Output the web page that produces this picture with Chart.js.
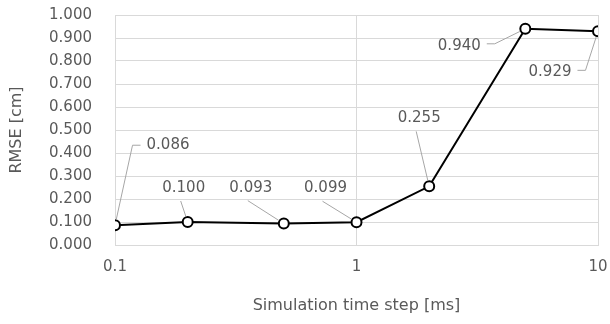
<!DOCTYPE html>
<html>
<head>
<meta charset="utf-8">
<script src="https://cdn.jsdelivr.net/npm/chart.js@4/dist/chart.umd.min.js"></script>
<style>
    body { margin: 0; background: #fff; }
</style>
</head>
<body>
<canvas id="rmseChart" width="610" height="324"></canvas>
<script>
// Chart data
const timeSteps = [0.1, 0.2, 0.5, 1, 2, 5, 10];
const rmseValues = [0.086, 0.100, 0.093, 0.099, 0.255, 0.940, 0.929];
const xTickValues = [0.1, 1, 10];
const yMin = 0, yMax = 1, yStep = 0.1;

// Label placement relative to each point (dx, dy of label centre, leader side)
const labelPlacement = [
    { dx: 53, dy: -80, side: 'left' },
    { dx: -4, dy: -34, side: 'bottom' },
    { dx: -33, dy: -36, side: 'bottom' },
    { dx: -31, dy: -34, side: 'bottom' },
    { dx: -10, dy: -68, side: 'bottom' },
    { dx: -66, dy: 17, side: 'right' },
    { dx: -48, dy: 41, side: 'right' }
];

const textColor = '#595959';
const gridColor = '#d9d9d9';
const fontFamily = '"DejaVu Sans", Verdana, sans-serif';

// Draws value labels with thin leader lines, Excel style
const leaderLabels = {
    id: 'leaderLabels',
    afterDatasetsDraw(chart) {
        const ctx = chart.ctx;
        const meta = chart.getDatasetMeta(0);
        ctx.save();
        ctx.font = '15px ' + fontFamily;
        ctx.textAlign = 'center';
        ctx.textBaseline = 'middle';
        meta.data.forEach((pt, i) => {
            const place = labelPlacement[i];
            const text = rmseValues[i].toFixed(3);
            const cx = pt.x + place.dx;
            const cy = pt.y + place.dy;
            const w = ctx.measureText(text).width;

            let ax, ay, stubX = null;
            if (place.side === 'left') {
                ax = cx - w / 2 - 14; ay = cy; stubX = cx - w / 2 - 6;
            } else if (place.side === 'right') {
                ax = cx + w / 2 + 14; ay = cy - 2; stubX = cx + w / 2 + 6;
            } else {
                ax = cx - 3; ay = cy + 13;
            }
            // stop leader at the marker edge
            const vx = pt.x - ax, vy = pt.y - ay;
            const len = Math.sqrt(vx * vx + vy * vy);
            const ex = pt.x - vx / len * 6;
            const ey = pt.y - vy / len * 6;

            ctx.strokeStyle = '#a6a6a6';
            ctx.lineWidth = 1;
            ctx.beginPath();
            if (stubX !== null) {
                ctx.moveTo(stubX, ay);
                ctx.lineTo(ax, ay);
            } else {
                ctx.moveTo(ax, ay);
            }
            ctx.lineTo(ex, ey);
            ctx.stroke();

            ctx.fillStyle = textColor;
            ctx.fillText(text, cx, cy);
        });
        ctx.restore();
    }
};

const ctxRmse = document.getElementById('rmseChart').getContext('2d');
new Chart(ctxRmse, {
    type: 'line',
    data: {
        datasets: [{
            label: 'RMSE',
            data: timeSteps.map((t, i) => ({ x: t, y: rmseValues[i] })),
            borderColor: '#000',
            borderWidth: 2,
            tension: 0,
            pointRadius: 5,
            pointBorderWidth: 2,
            pointBackgroundColor: '#fff',
            pointBorderColor: '#000'
        }]
    },
    options: {
        responsive: false,
        animation: false,
        layout: { padding: { top: 15, right: 12, left: 0, bottom: 0 } },
        plugins: {
            legend: { display: false },
            tooltip: { enabled: false }
        },
        scales: {
            x: {
                type: 'logarithmic',
                min: 0.1,
                max: 10,
                afterBuildTicks(scale) {
                    scale.ticks = xTickValues.map(v => ({ value: v }));
                },
                afterFit(scale) {
                    scale.height = 79;
                    scale.paddingLeft = 0;
                    scale.paddingRight = 0;
                },
                grid: { color: gridColor, drawTicks: false },
                border: { color: gridColor },
                ticks: {
                    color: textColor,
                    font: { family: fontFamily, size: 15 },
                    padding: 13,
                    maxRotation: 0,
                    callback: v => String(v)
                },
                title: {
                    display: true,
                    text: 'Simulation time step [ms]',
                    color: textColor,
                    font: { family: fontFamily, size: 16 },
                    padding: { top: 0, bottom: 9 }
                }
            },
            y: {
                min: yMin,
                max: yMax,
                afterFit(scale) {
                    scale.width = 115;
                    scale.paddingTop = 0;
                    scale.paddingBottom = 0;
                },
                grid: { color: gridColor, drawTicks: false },
                border: { color: gridColor },
                ticks: {
                    stepSize: yStep,
                    color: textColor,
                    font: { family: fontFamily, size: 15 },
                    padding: 23,
                    callback: v => v.toFixed(3)
                },
                title: {
                    display: true,
                    text: 'RMSE [cm]',
                    color: textColor,
                    font: { family: fontFamily, size: 16 },
                    padding: { top: 7, bottom: 0 }
                }
            }
        }
    },
    plugins: [leaderLabels]
});
</script>
</body>
</html>
